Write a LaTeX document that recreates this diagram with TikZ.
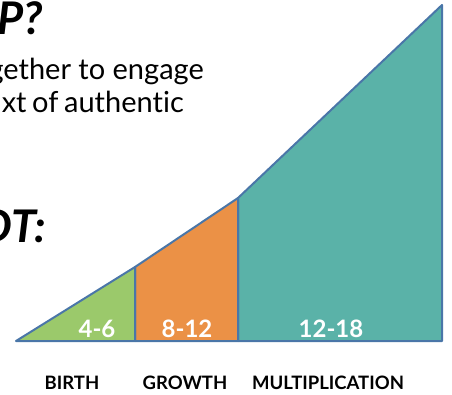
\documentclass[tikz,border=0pt]{standalone}
\usepackage{fontspec}
\setmainfont{Lato}[Ligatures=NoCommon]
\definecolor{edgeblue}{HTML}{4A76A8}
\definecolor{birthgreen}{HTML}{9BC96B}
\definecolor{growthorange}{HTML}{EB9146}
\definecolor{multteal}{HTML}{5AB2A8}

\begin{document}
\begin{tikzpicture}[x=1pt, y=-1pt,
    stage/.style={draw=edgeblue, line width=2pt, line join=round},
    count/.style={anchor=base, text=white, font=\bfseries\fontsize{24}{24}\selectfont},
    phase/.style={anchor=base, font=\bfseries\fontsize{18.5}{18.5}\selectfont},
    head/.style={anchor=base east, font=\bfseries\itshape\fontsize{45}{45}\selectfont, inner sep=0pt},
    body/.style={anchor=base east, font=\fontsize{29}{29}\selectfont, inner sep=0pt}]
    \useasboundingbox (0,0) rectangle (452,395);
    \clip (0,0) rectangle (452,395);
    % heading fragments
    \node[head] (q) at (43,35) {P?};
    \node[body] (l1) at (204,80) {gether to engage};
    \node[body] (l2) at (184,113) {\makebox[182pt][s]{xt of authentic}};
    \node[head] (r) at (46,243) {DT:};
    % stages
    \coordinate (o) at (16,341);
    \coordinate (a) at (135,341);
    \coordinate (at) at (135,267);
    \coordinate (b) at (238,341);
    \coordinate (bt) at (238,198);
    \coordinate (c) at (442,341);
    \coordinate (ct) at (442,5);
    \filldraw[stage, fill=multteal] (b) -- (bt) -- (ct) -- (c) -- cycle;
    \filldraw[stage, fill=growthorange] (a) -- (at) -- (bt) -- (b) -- cycle;
    \filldraw[stage, fill=birthgreen] (o) -- (at) -- (a) -- cycle;
    % numbers
    \node[count] (n1) at (97,337) {4-6};
    \node[count] (n2) at (187,337) {8-12};
    \node[count] (n3) at (331,337) {12-18};
    % phase names
    \node[phase] (p1) at (72,389) {BIRTH};
    \node[phase] (p2) at (185,389) {GROWTH};
    \node[phase] (p3) at (328,389) {MULTIPLICATION};
\end{tikzpicture}
\end{document}
